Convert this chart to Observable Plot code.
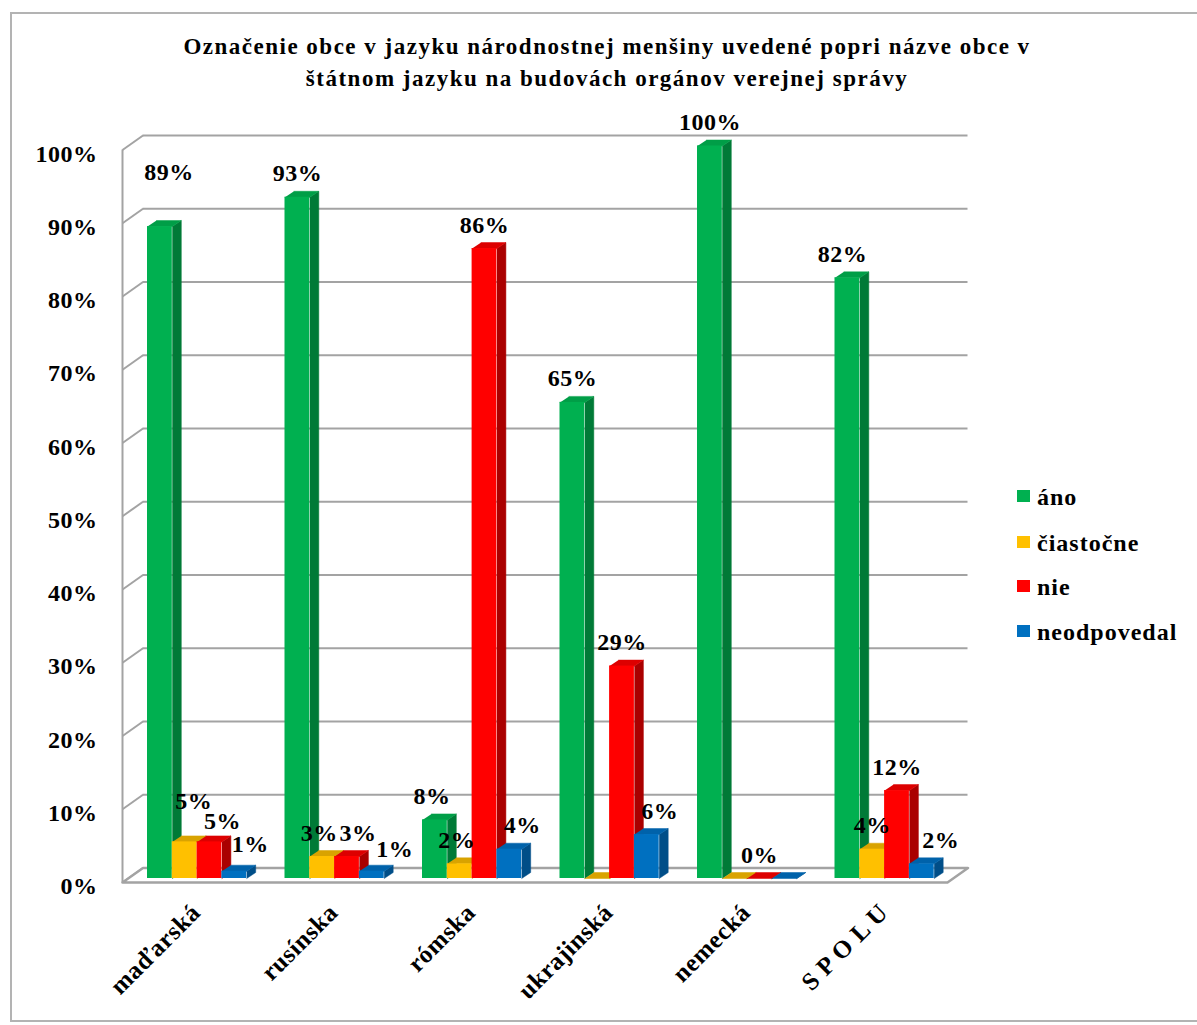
<!DOCTYPE html>
<html>
<head>
<meta charset="utf-8">
<script src="https://cdn.jsdelivr.net/npm/d3@7"></script>
<script src="https://cdn.jsdelivr.net/npm/@observablehq/plot@0.6"></script>
<style>
  html, body { margin: 0; padding: 0; background: #fff; }
  body { width: 1197px; height: 1025px; position: relative; overflow: hidden; font-family: "Liberation Serif", "Times New Roman", serif; }
  #frame { position: absolute; left: 10px; top: 12px; width: 1200px; height: 1010px; border: 2px solid #b3b3b3; box-sizing: border-box; }
  #title { position: absolute; left: 0; top: 31px; width: 1214px; text-align: center; font-weight: bold; font-size: 23px; line-height: 32px; letter-spacing: 1.5px; color: #000; }
  #chart { position: absolute; left: 0; top: 100px; }
  #chart svg text { font-family: "Liberation Serif", "Times New Roman", serif; font-weight: bold; letter-spacing: 0.5px; }
  .leg { position: absolute; left: 1017px; font-weight: bold; font-size: 24px; line-height: 24px; letter-spacing: 1px; color: #000; white-space: nowrap; }
  .leg i { position: absolute; left: 0; top: 5px; width: 13px; height: 12px; }
  .leg span { position: absolute; left: 20px; top: 0; }
</style>
</head>
<body>
<div id="frame"></div>
<div id="title">Označenie obce v jazyku národnostnej menšiny uvedené popri názve obce v<br>štátnom jazyku na budovách orgánov verejnej správy</div>
<div id="chart"></div>
<div id="legend"></div>
<script>
// ---- data ----
const categories = ["maďarská", "rusínska", "rómska", "ukrajinská", "nemecká", "S P O L U"];
const seriesNames = ["áno", "čiastočne", "nie", "neodpovedal"];
// values in %; null = bar shown at zero height without a label
const ano         = [89, 93, 8, 65, 100, 82];
const ciastocne   = [5, 3, 2, null, null, 4];
const nie         = [5, 3, 86, 29, 0, 12];
const neodpovedal = [1, 1, 4, 6, null, 2];
const yTicks = [0, 10, 20, 30, 40, 50, 60, 70, 80, 90, 100];

// ---- styles ----
const frontColors = ["#00B050", "#FFC000", "#FF0000", "#0070C0"];
const topColors   = ["#009E47", "#D9A300", "#DD0000", "#0062AA"];
const sideColors  = ["#007A37", "#B88A00", "#AA0000", "#004E88"];
const gridColor = "#a3a3a3";

// ---- geometry helpers (pixel -> data units) ----
const W = 1000, H = 920, mL = 122, mR = 53, mT = 45.5, mB = 142;
const kx = 6 / (W - mL - mR);          // x units per pixel
const ky = 100 / (H - mT - mB);        // y units per pixel
const OFF = 25 * kx, BW = 24.8 * kx;   // group offset & bar width
const DX = 9 * kx, DY = 6 * ky;        // bar depth
const WX = 20.5 * kx, WY = 10.5 * ky, FY = 4 * ky; // wall depth / front offset

const all = [ano, ciastocne, nie, neodpovedal];
const rows = [];
categories.forEach((c, i) => {
  all.forEach((arr, j) => {
    const raw = arr[i];
    const v = raw == null ? 0 : raw;
    const x0 = i + OFF + j * BW, x1 = x0 + BW;
    rows.push({cat: c, i, j, series: seriesNames[j], v, raw, x0, x1, xc: (x0 + x1) / 2});
  });
});

// polygons for 3D faces
const sides = [], tops = [];
rows.forEach((r, k) => {
  [[r.x1, 0], [r.x1 + DX, DY], [r.x1 + DX, r.v + DY], [r.x1, r.v]].forEach(([x, y]) =>
    sides.push({id: k, x, y, fill: sideColors[r.j]}));
  [[r.x0, r.v], [r.x1, r.v], [r.x1 + DX, r.v + DY], [r.x0 + DX, r.v + DY]].forEach(([x, y]) =>
    tops.push({id: k, x, y, fill: topColors[r.j]}));
});

// label nudges (pixels) to avoid overlaps, as in the original
const nudge = new Map([
  ["0-0", [9, -31]], ["0-1", [9, -17]], ["0-2", [13, 3]], ["0-3", [16, -3]],
  ["1-1", [-3, 0]], ["1-2", [11, 0]], ["1-3", [23, 2]],
  ["2-0", [-3, 0]], ["2-1", [-3, 0]], ["2-3", [13, 0]],
  ["3-3", [13, 0]], ["5-0", [-5, 0]], ["5-3", [19, 0]]
]);
const labels = rows.filter(r => r.raw != null).map(r => {
  const [ndx, ndy] = nudge.get(r.i + "-" + r.j) || [0, 0];
  return {x: r.xc + ndx * kx, y: r.v - ndy * ky, text: r.raw + "%"};
});

const floor = [[0, -FY], [6, -FY], [6 + WX, WY], [WX, WY], [0, -FY]].map(([x, y]) => ({x, y}));

const chart = Plot.plot({
  width: W, height: H,
  marginLeft: mL, marginRight: mR, marginTop: mT, marginBottom: mB,
  x: {type: "linear", domain: [0, 6], axis: null},
  y: {type: "linear", domain: [0, 100], axis: null},
  color: {type: "identity"},
  marks: [
    // back wall gridlines
    Plot.ruleY(yTicks, {y: d => d, x1: 0, x2: 6, dx: 20.5, dy: -10.5, stroke: gridColor, strokeWidth: 2}),
    // left wall
    Plot.link(yTicks, {x1: 0, y1: d => d - FY, x2: WX, y2: d => d + WY, stroke: gridColor, strokeWidth: 2}),
    Plot.ruleX([0], {x: d => d, y1: -FY, y2: 100 - FY, stroke: gridColor, strokeWidth: 2}),
    // floor
    Plot.line(floor, {x: "x", y: "y", stroke: gridColor, strokeWidth: 2.5, fill: "white"}),
    // bars
    Plot.line(sides, {x: "x", y: "y", z: "id", fill: "fill", stroke: "fill", strokeWidth: 0.5, curve: "linear"}),
    Plot.line(tops, {x: "x", y: "y", z: "id", fill: "fill", stroke: "fill", strokeWidth: 0.5, curve: "linear"}),
    Plot.rect(rows, {x1: "x0", x2: "x1", y1: 0, y2: "v", fill: d => frontColors[d.j], inset: 0}),
    // data labels
    Plot.text(labels, {x: "x", y: "y", text: "text", dy: -16, lineAnchor: "bottom", textAnchor: "middle", fontSize: 24, fontWeight: "bold", fill: "black"}),
    // y labels
    Plot.text(yTicks, {x: 0, y: d => d, text: d => d + "%", textAnchor: "end", lineAnchor: "middle", dx: -25, dy: 8, fontSize: 24, fontWeight: "bold", fill: "black"}),
    // x labels
    Plot.text(categories, {x: (d, i) => i + OFF + 2 * BW, y: 0, text: d => d, rotate: -45, textAnchor: "end", lineAnchor: "middle", dx: -1, dy: 30, fontSize: 25, fontWeight: "bold", fill: "black"})
  ]
});
document.getElementById("chart").appendChild(chart);

// legend
const legend = document.getElementById("legend");
const baselines = [504, 550, 594, 639];
seriesNames.forEach((s, j) => {
  const d = document.createElement("div");
  d.className = "leg";
  d.style.top = (baselines[j] - 19) + "px";
  d.innerHTML = `<i style="background:${frontColors[j]}"></i><span>${s}</span>`;
  legend.appendChild(d);
});
</script>
</body>
</html>
